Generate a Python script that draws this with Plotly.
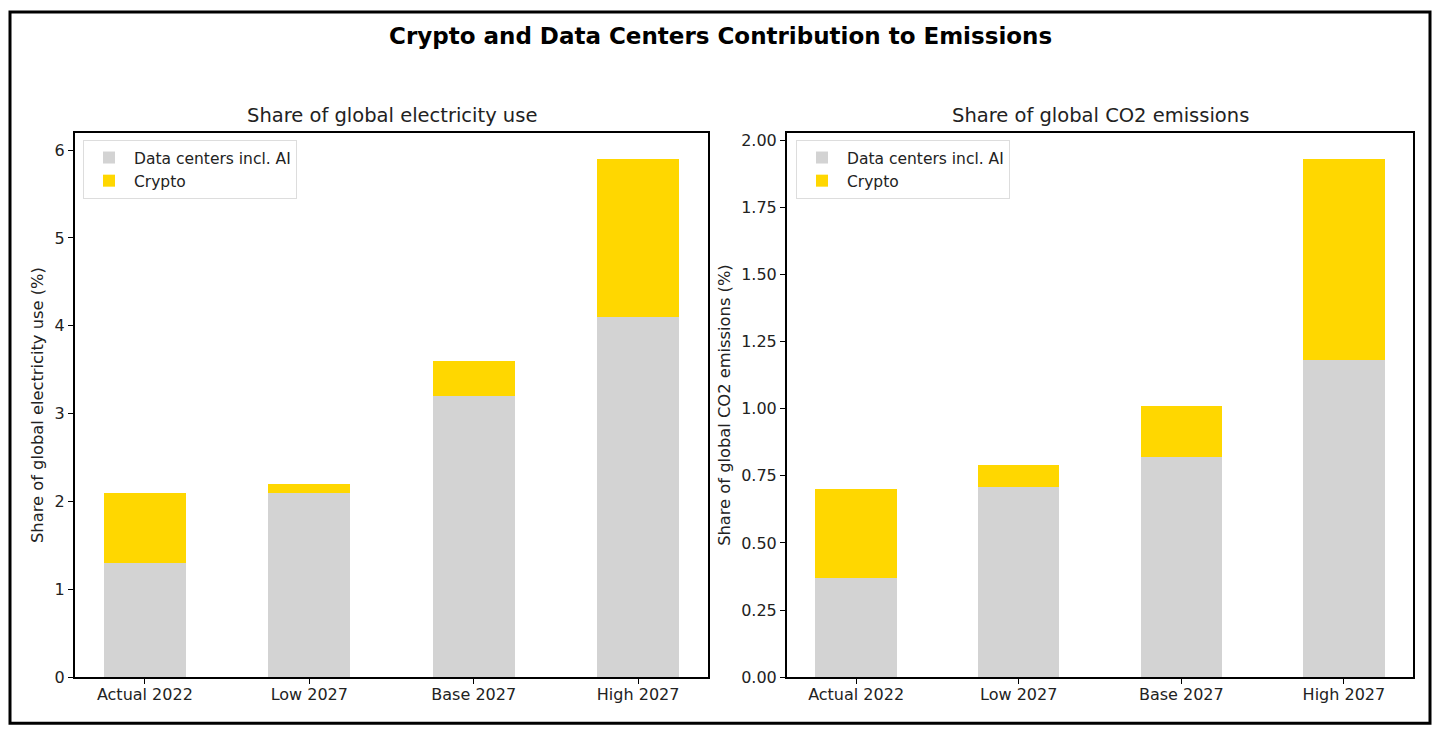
import plotly.graph_objects as go
from plotly.subplots import make_subplots

scenarios = ['Actual 2022', 'Low 2027', 'Base 2027', 'High 2027']

# share of global electricity use (%)
elec_dc = [1.3, 2.1, 3.2, 4.1]
elec_crypto = [0.8, 0.1, 0.4, 1.8]

# share of global CO2 emissions (%)
co2_dc = [0.37, 0.71, 0.82, 1.18]
co2_crypto = [0.33, 0.08, 0.19, 0.75]

grey = '#D3D3D3'
gold = '#FFD700'
font = 'DejaVu Sans'
txt = '#222222'

fig = make_subplots(rows=1, cols=2)

fig.add_trace(go.Bar(x=scenarios, y=elec_dc, name='Data centers incl. AI',
                     marker_color=grey, marker_line_width=0, width=0.5,
                     legend='legend'), row=1, col=1)
fig.add_trace(go.Bar(x=scenarios, y=elec_crypto, name='Crypto',
                     marker_color=gold, marker_line_width=0, width=0.5,
                     legend='legend'), row=1, col=1)
fig.add_trace(go.Bar(x=scenarios, y=co2_dc, name='Data centers incl. AI',
                     marker_color=grey, marker_line_width=0, width=0.5,
                     legend='legend2'), row=1, col=2)
fig.add_trace(go.Bar(x=scenarios, y=co2_crypto, name='Crypto',
                     marker_color=gold, marker_line_width=0, width=0.5,
                     legend='legend2'), row=1, col=2)

# page has an 8px body margin; the snapshot also comes out a little squashed vertically
W, H = 1424, 733
S = 0.985
px_x = lambda v: (v - 8) / W
px_y = lambda v: 1 - (v / S - 8) / H

axis_style = dict(showline=True, linecolor='black', linewidth=2, mirror=True,
                  ticks='outside', ticklen=5, tickwidth=1, tickcolor='black',
                  showgrid=False, zeroline=False,
                  tickfont=dict(family=font, size=16, color=txt))

fig.update_xaxes(**axis_style, range=[-0.425, 3.425], ticklabelstandoff=-3)
fig.update_yaxes(**axis_style)

legend_style = dict(xanchor='left', yanchor='top',
                    bgcolor='white', bordercolor='#DDDDDD', borderwidth=1,
                    font=dict(family=font, size=15.5, color=txt),
                    traceorder='normal', itemwidth=40)

fig.update_layout(
    xaxis=dict(domain=[px_x(75), px_x(708)]),
    xaxis2=dict(domain=[px_x(787), px_x(1413)]),
    yaxis=dict(domain=[px_y(676), px_y(131)], range=[0, 6.195], dtick=1,
               title=dict(text='Share of global electricity use (%)', standoff=7,
                          font=dict(family=font, size=16.3, color=txt))),
    yaxis2=dict(domain=[px_y(676), px_y(131)], range=[0, 2.0265], dtick=0.25,
                tickformat='.2f',
                title=dict(text='Share of global CO2 emissions (%)', standoff=6,
                           font=dict(family=font, size=16.3, color=txt))),
    barmode='stack',
    width=W, height=H,
    margin=dict(l=0, r=0, t=0, b=0),
    paper_bgcolor='white', plot_bgcolor='white',
    showlegend=True,
    legend=dict(x=px_x(83), y=px_y(138), **legend_style),
    legend2=dict(x=px_x(796), y=px_y(138), **legend_style),
)

fig.add_annotation(text='<b>Crypto and Data Centers Contribution to Emissions</b>',
                   xref='paper', yref='paper', x=px_x(720), y=px_y(34),
                   xanchor='center', yanchor='middle', showarrow=False,
                   font=dict(family=font, size=23, color='black'))
fig.add_annotation(text='Share of global electricity use',
                   xref='paper', yref='paper', x=(px_x(75) + px_x(708)) / 2, y=px_y(114),
                   xanchor='center', yanchor='middle', showarrow=False,
                   font=dict(family=font, size=19.5, color=txt))
fig.add_annotation(text='Share of global CO2 emissions',
                   xref='paper', yref='paper', x=(px_x(787) + px_x(1413)) / 2, y=px_y(114),
                   xanchor='center', yanchor='middle', showarrow=False,
                   font=dict(family=font, size=19.5, color=txt))

# outer frame around the whole figure
fig.add_shape(type='rect', xref='paper', yref='paper',
              x0=px_x(10), x1=px_x(1430), y0=px_y(722), y1=px_y(10),
              line=dict(color='black', width=3))

fig.write_html('out.html')
